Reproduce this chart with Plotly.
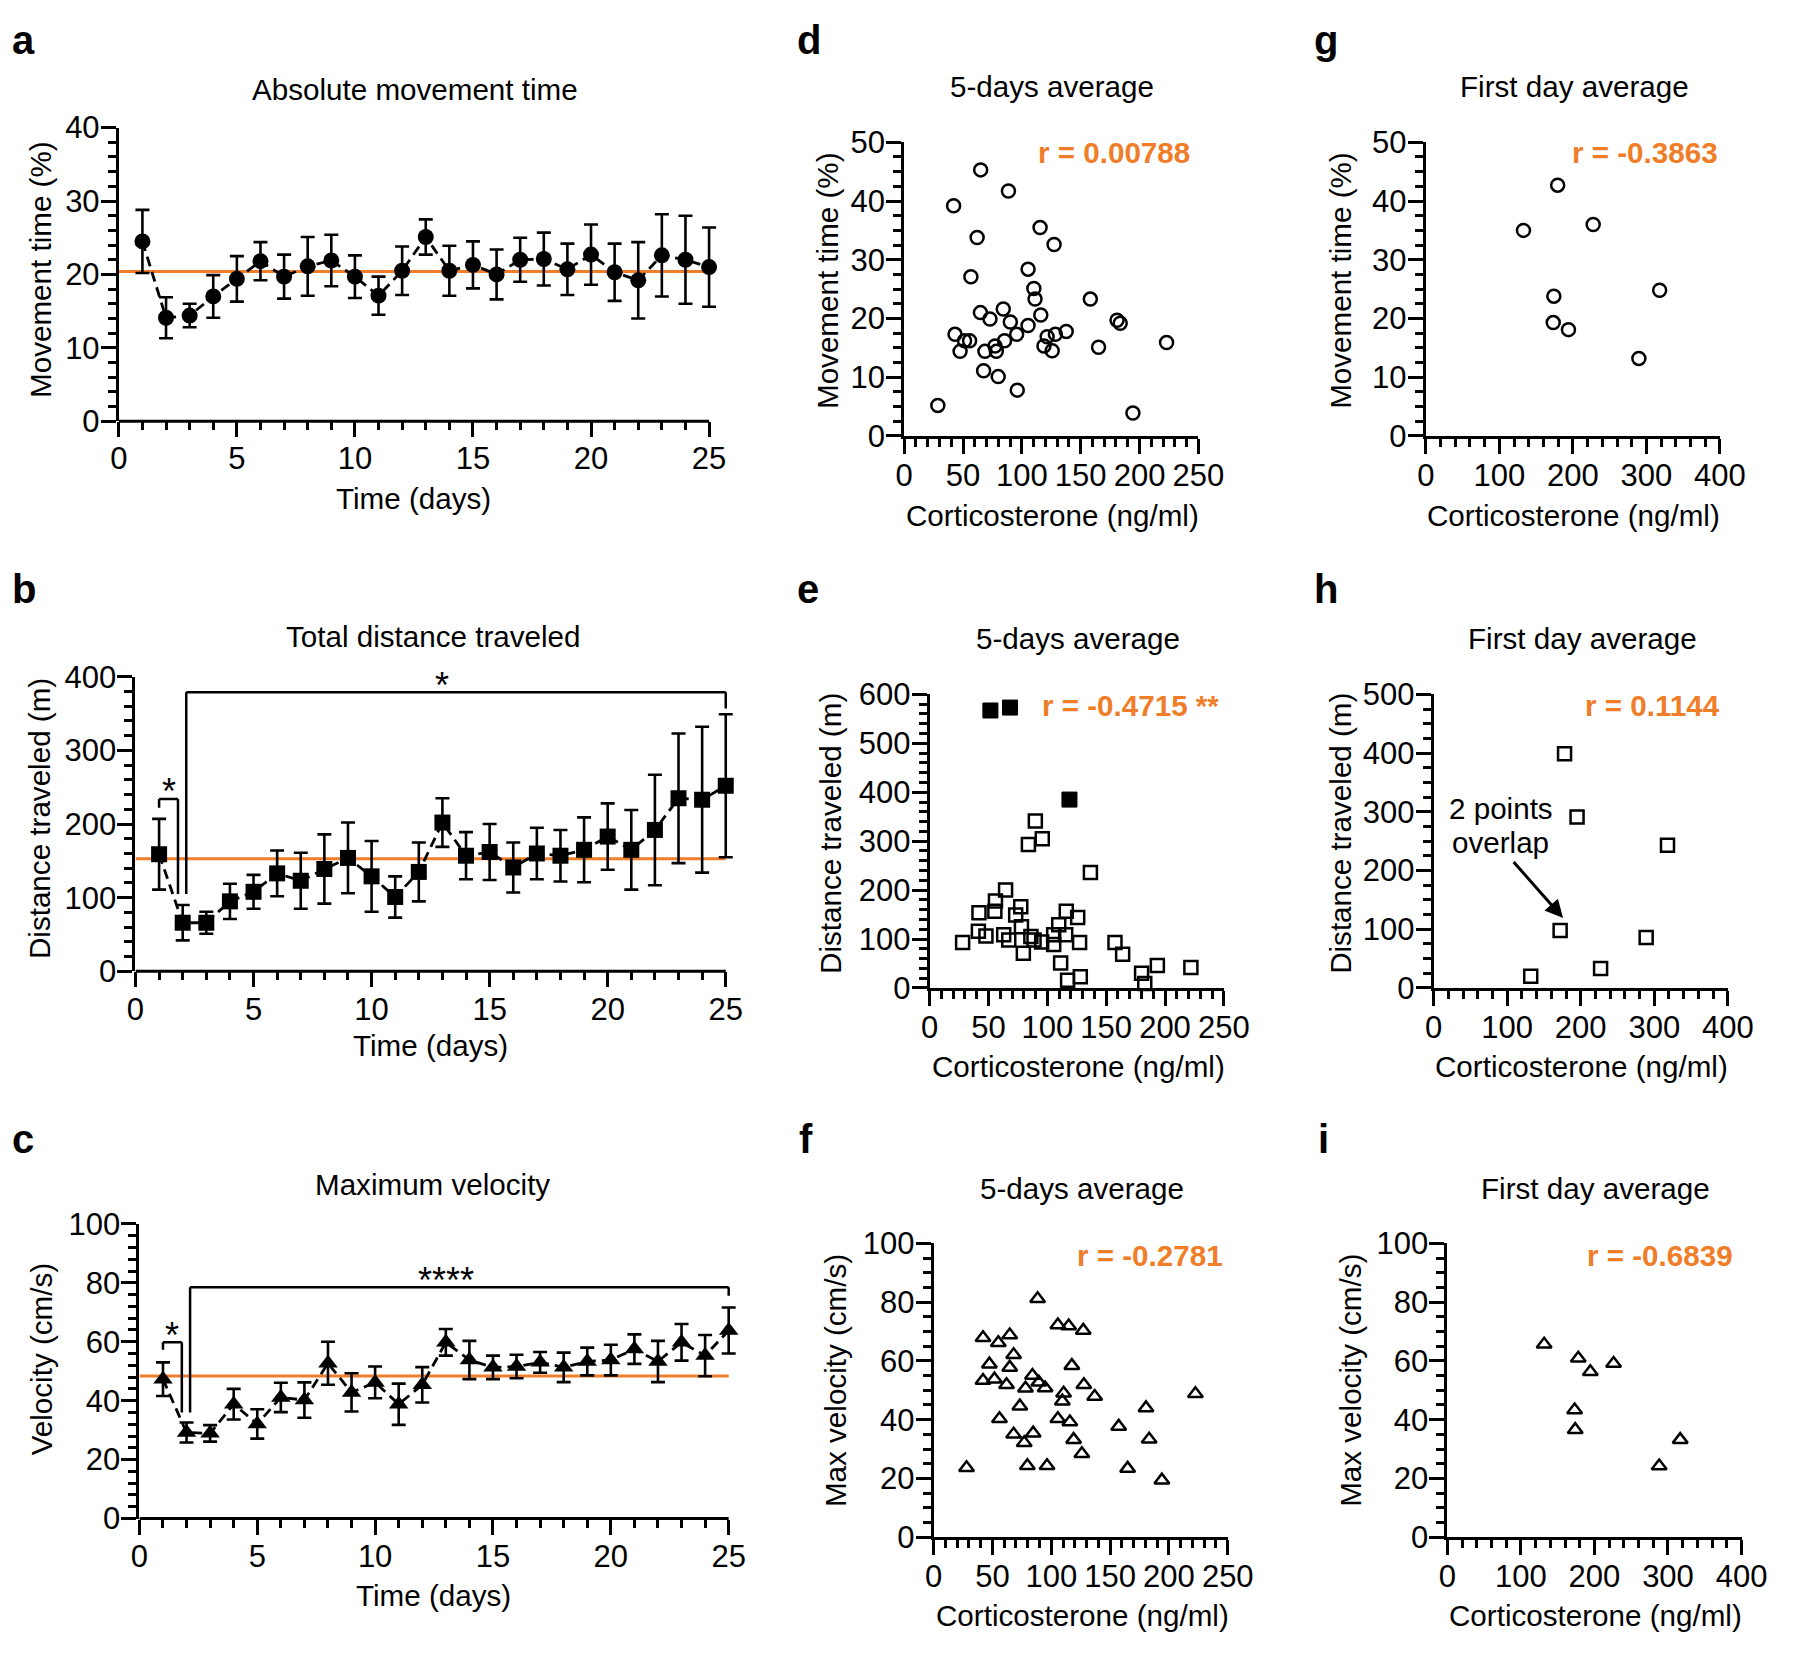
import plotly.graph_objects as go

W, H = 1794, 1653
FONT = "Liberation Sans, Arial, Helvetica, sans-serif"
ORANGE = "#F07D28"

# ---------------- data ----------------
days = list(range(1, 26))
move_mean = [24.5, 14.1, 14.4, 17.0, 19.4, 21.8, 19.7, 21.1, 21.9, 19.7, 17.1, 20.5, 25.1,
             20.5, 21.3, 20.0, 22.0, 22.1, 20.7, 22.7, 20.3, 19.2, 22.6, 22.0, 21.0]
move_sem = [4.3, 2.8, 1.6, 2.9, 3.1, 2.6, 3.0, 4.0, 3.5, 2.9, 2.6, 3.3, 2.4,
            3.4, 3.2, 3.4, 3.0, 3.6, 3.5, 4.1, 3.9, 5.2, 5.6, 6.0, 5.4]
move_ref = 20.4

dist_mean = [159, 66, 66, 95, 108, 133, 123, 139, 154, 129, 101, 135, 202,
             157, 162, 141, 160, 157, 165, 183, 165, 192, 235, 233, 252]
dist_sem = [48, 24, 15, 24, 23, 31, 38, 47, 48, 48, 28, 40, 33,
            32, 38, 34, 35, 35, 44, 45, 54, 75, 88, 99, 97]
dist_ref = 153

vel_mean = [47.3, 29.2, 28.9, 38.8, 32.1, 41.1, 40.2, 52.7, 42.8, 46.2, 38.8, 45.4, 59.8,
            53.8, 51.3, 51.6, 53.0, 51.3, 53.3, 53.8, 57.5, 53.3, 59.8, 55.3, 63.8]
vel_sem = [5.7, 3.4, 2.8, 5.2, 5.0, 5.0, 6.0, 7.3, 6.5, 5.4, 7.0, 6.0, 4.5,
           6.5, 4.0, 4.0, 3.5, 5.0, 4.7, 5.2, 5.0, 7.0, 6.2, 7.0, 7.8]
vel_ref = 48.4

# significance brackets: (x_left, x_right, y_top, y_left_end, y_right_end, label, label_x)
dist_brackets = [(1.0, 1.8, 234, 222, 105, "*", 1.4),
                 (2.15, 25, 379, 105, 357, "*", 13)]
vel_brackets = [(1.0, 1.8, 59.8, 57.3, 36, "*", 1.4),
                (2.15, 25, 78.5, 36, 75.6, "****", 13)]

# 5-days average, movement time
cort_d = [28.6, 42, 65, 88.6, 62, 115.5, 127.4, 56.7, 105.3, 110.2, 111.2, 158.2, 64.8, 84.2,
          72.9, 90.2, 116.1, 105.3, 95.6, 180.9, 183.6, 43.2, 51.3, 55.6, 47.5, 68.6, 78.3, 77.2,
          85.3, 118.8, 121.5, 128.5, 137.7, 125.8, 165.2, 223, 67.5, 79.9, 96.1, 194.4]
move_d = [5.2, 39.2, 45.3, 41.7, 33.8, 35.5, 32.6, 27.1, 28.4, 25.1, 23.3, 23.3, 21.0, 21.6,
          19.9, 19.4, 20.6, 18.8, 17.3, 19.7, 19.2, 17.3, 16.2, 16.2, 14.4, 14.4, 14.4, 15.3,
          16.2, 15.3, 16.9, 17.3, 17.8, 14.5, 15.1, 15.9, 11.1, 10.1, 7.8, 3.9]
r_d = "r = 0.00788"

# first day, movement time
cort_g = [132.8, 179.3, 227.6, 174.1, 173.3, 194, 318, 289.7]
move_g = [35.0, 42.7, 36.0, 23.8, 19.3, 18.1, 24.8, 13.2]
r_g = "r = -0.3863"

# 5-days average, distance
cort_e_filled = [51.6, 68.3, 118.8]
dist_e_filled = [567, 573, 385]
cort_e = [89.8, 83.9, 95.7, 136.6, 64.5, 55.9, 77.4, 41.9, 55.4, 73.1, 116.1, 125.8, 109.7, 78,
          41.4, 47.8, 62.9, 67.2, 86, 88.7, 95.2, 105.4, 105.4, 115.6, 28, 127.4, 157.5, 164,
          79.6, 111.3, 180.1, 182.8, 193.5, 222, 117.2, 128]
dist_e = [341, 293, 305, 236, 200, 178, 166, 154, 157, 149, 157, 144, 129, 125,
          116, 106, 109, 98, 105, 98, 94, 89, 109, 109, 93, 93, 93, 69,
          71, 51, 30, 9, 46, 42, 16, 23]
r_e = "r = -0.4715 **"

# first day, distance
cort_h = [178, 195, 318, 172, 289, 227, 132]
dist_h = [399, 291, 243, 98, 86, 33, 20]
r_h = "r = 0.1144"
overlap_note = ["2 points", "overlap"]
overlap_arrow = dict(tail=(107, 217), head=(176, 119))

# 5-days average, velocity
cort_f = [28, 42, 55, 64.7, 68, 47.4, 64.7, 42, 51.7, 62, 84, 89.4, 78.1, 94.8, 88.4, 105.6,
          114.8, 127.2, 117.5, 110.5, 109.4, 127.7, 136.9, 73.3, 56, 105.6, 115.8, 68, 84.6, 77,
          119, 126, 79.7, 96.4, 157.3, 180.5, 183.2, 164.9, 194, 222.5]
vel_f = [23.6, 67.9, 66.2, 68.8, 62.1, 58.9, 57.8, 53.3, 53.8, 51.9, 55, 52.7, 50.7, 50.8, 81.2,
         72.2, 71.9, 70.4, 58.4, 49, 46.3, 51.9, 47.9, 44.6, 40.3, 40.3, 39.2, 35, 35.4, 32.1,
         33.2, 28.4, 24.3, 24.3, 37.7, 44, 33.3, 23.4, 19.4, 48.8]
r_f = "r = -0.2781"

# first day, velocity
cort_i = [131.6, 178, 194.4, 226, 173, 173.8, 288, 316.6]
vel_i = [65.7, 60.9, 56.3, 59.1, 43.3, 36.6, 24.2, 33.2]
r_i = "r = -0.6839"

# ---------------- layout helpers ----------------
def px_x(p):
    return p / W


def px_y(p):
    return 1 - p / H


# (left, right, top, bottom) in pixels; right = pixel of the last labelled tick
boxes = {
    'a': (112, 714, 113, 413),
    'b': (129, 731, 674, 975),
    'c': (133, 734, 1233, 1534),
    'd': (913, 1213, 128, 428),
    'e': (939, 1239, 692, 992),
    'f': (943, 1243, 1253, 1553),
    'g': (1445, 1745, 128, 428),
    'h': (1453, 1753, 692, 992),
    'i': (1467, 1767, 1253, 1553),
}
order = ['a', 'b', 'c', 'd', 'e', 'f', 'g', 'h', 'i']
axis_id = {k: i + 1 for i, k in enumerate(order)}
time_keys = {'a', 'b', 'c'}
XPAD = 0.7  # extra room right of day 25 so end error caps are not clipped

axis_spec = {  # xrange, xdtick, xminor, yrange, ydtick, yminor
    'a': ([0, 25], 5, 1, [0, 40], 10, 2),
    'b': ([0, 25], 5, 1, [0, 400], 100, 20),
    'c': ([0, 25], 5, 1, [0, 100], 20, 4),
    'd': ([0, 250], 50, 10, [0, 50], 10, 2.5),
    'e': ([0, 250], 50, 10, [0, 600], 100, 20),
    'f': ([0, 250], 50, 10, [0, 100], 20, 5),
    'g': ([0, 400], 100, 20, [0, 50], 10, 2.5),
    'h': ([0, 400], 100, 20, [0, 500], 100, 25),
    'i': ([0, 400], 100, 20, [0, 100], 20, 5),
}

TICKFONT = dict(size=31, family=FONT, color='black')
TXT = 29.6


def make_axis(dom, rng, dtick, minor, anchor, showline=True):
    return dict(domain=dom, range=rng, dtick=dtick, tick0=0, anchor=anchor,
                showline=showline, linewidth=3, linecolor='black',
                ticks='outside', ticklen=15, tickwidth=3, tickcolor='black',
                ticklabelstandoff=-5,
                showgrid=False, zeroline=False, fixedrange=True,
                tickfont=TICKFONT,
                minor=dict(dtick=minor, tick0=0, ticks='outside', ticklen=8,
                           tickwidth=3, tickcolor='black', showgrid=False))


fig = go.Figure()
layout_axes = {}
shapes = []
for k in order:
    n = axis_id[k]
    l, r, t, b = boxes[k]
    xr, xd, xm, yr, yd, ym = axis_spec[k]
    xname = 'xaxis' if n == 1 else f'xaxis{n}'
    yname = 'yaxis' if n == 1 else f'yaxis{n}'
    sfx = "" if n == 1 else str(n)
    if k in time_keys:
        r_ext = r + (r - l) * XPAD / xr[1]
        layout_axes[xname] = make_axis([px_x(l), px_x(r_ext)], [xr[0], xr[1] + XPAD], xd, xm,
                                       'y' + sfx, showline=False)
        shapes.append(dict(type='line', xref='x' + sfx, yref='y' + sfx + ' domain',
                           x0=xr[0], x1=xr[1], y0=0, y1=0,
                           line=dict(color='black', width=3)))
    else:
        layout_axes[xname] = make_axis([px_x(l), px_x(r)], xr, xd, xm, 'y' + sfx)
    layout_axes[yname] = make_axis([px_y(b), px_y(t)], yr, yd, ym, 'x' + sfx)


def refs(k):
    n = axis_id[k]
    return ('x' if n == 1 else f'x{n}'), ('y' if n == 1 else f'y{n}')


annotations = []


def ann(text, xp, yp, size=TXT, bold=False, color='black', xanchor='center',
        yanchor='middle', angle=0):
    if bold:
        text = f"<b>{text}</b>"
    annotations.append(dict(text=text, x=px_x(xp), y=px_y(yp), xref='paper', yref='paper',
                            showarrow=False, xanchor=xanchor, yanchor=yanchor,
                            textangle=angle,
                            font=dict(size=size, family=FONT, color=color)))


# ---------------- time course panels ----------------
time_panels = [('a', move_mean, move_sem, move_ref, 'circle', 16, []),
               ('b', dist_mean, dist_sem, dist_ref, 'square', 16, dist_brackets),
               ('c', vel_mean, vel_sem, vel_ref, 'triangle-up', 17, vel_brackets)]
for k, mean, sem, ref, sym, msize, brackets in time_panels:
    xr_, yr_ = refs(k)
    shapes.append(dict(type='line', xref=xr_, yref=yr_, x0=0, x1=25, y0=ref, y1=ref,
                       line=dict(color=ORANGE, width=3), layer='below'))
    fig.add_trace(go.Scatter(
        x=days, y=mean, xaxis=xr_, yaxis=yr_, mode='lines+markers', cliponaxis=False,
        line=dict(color='black', width=2.8, dash='10px,6px'),
        marker=dict(symbol=sym, size=msize, color='black'),
        error_y=dict(type='data', array=sem, visible=True, color='black',
                     thickness=2.6, width=7)))
    for x0, x1, ytop, yl, yrr, lab, lx in brackets:
        for seg in [(x0, ytop, x1, ytop), (x0, ytop, x0, yl), (x1, ytop, x1, yrr)]:
            shapes.append(dict(type='line', xref=xr_, yref=yr_, x0=seg[0], y0=seg[1],
                               x1=seg[2], y1=seg[3], line=dict(color='black', width=2.5)))
        annotations.append(dict(text=lab, x=lx, y=ytop, xref=xr_, yref=yr_, showarrow=False,
                                xanchor='center', yanchor='middle', yshift=7,
                                font=dict(size=36, family=FONT, color='black')))

# ---------------- scatter panels ----------------
scatter_panels = [('d', cort_d, move_d, 'circle-open', 13),
                  ('g', cort_g, move_g, 'circle-open', 13),
                  ('e', cort_e, dist_e, 'square-open', 13),
                  ('h', cort_h, dist_h, 'square-open', 13),
                  ('f', cort_f, vel_f, 'triangle-up-open', 13),
                  ('i', cort_i, vel_i, 'triangle-up-open', 13)]
for k, xs, ys, sym, ms in scatter_panels:
    xr_, yr_ = refs(k)
    fig.add_trace(go.Scatter(x=xs, y=ys, xaxis=xr_, yaxis=yr_, mode='markers', cliponaxis=False,
                             marker=dict(symbol=sym, size=ms, color='black',
                                         line=dict(color='black', width=2.5))))
xr_, yr_ = refs('e')
fig.add_trace(go.Scatter(x=cort_e_filled, y=dist_e_filled, xaxis=xr_, yaxis=yr_, mode='markers',
                         cliponaxis=False,
                         marker=dict(symbol='square', size=15, color='black',
                                     line=dict(color='black', width=1))))

# arrow in h
xr_, yr_ = refs('h')
annotations.append(dict(text='', x=overlap_arrow['head'][0], y=overlap_arrow['head'][1],
                        ax=overlap_arrow['tail'][0], ay=overlap_arrow['tail'][1],
                        xref=xr_, yref=yr_, axref=xr_, ayref=yr_, showarrow=True,
                        arrowhead=2, arrowsize=1.2, arrowwidth=3, arrowcolor='black'))
ann(overlap_note[0], 1467, 809, xanchor='left')
ann(overlap_note[1], 1470, 843, xanchor='left')

# ---------------- texts ----------------
titles = [("Absolute movement time", 414, 74), ("Total distance traveled", 432, 633),
          ("Maximum velocity", 432, 1193), ("5-days average", 1064, 71),
          ("First day average", 1597, 71), ("5-days average", 1090, 635),
          ("First day average", 1605, 635), ("5-days average", 1094, 1197),
          ("First day average", 1618, 1197)]
for t, xp, yp in titles:
    ann(t, xp, yp)

xtitles = [("Time (days)", 413, 492), ("Time (days)", 430, 1051), ("Time (days)", 433, 1613),
           ("Corticosterone (ng/ml)", 1064, 509), ("Corticosterone (ng/ml)", 1596, 509),
           ("Corticosterone (ng/ml)", 1091, 1072), ("Corticosterone (ng/ml)", 1604, 1072),
           ("Corticosterone (ng/ml)", 1095, 1633), ("Corticosterone (ng/ml)", 1618, 1633)]
for t, xp, yp in xtitles:
    ann(t, xp, yp)

ytitles = [("Movement time (%)", 32, 258), ("Distance traveled (m)", 31, 819),
           ("Velocity (cm/s)", 34, 1371), ("Movement time (%)", 835, 269),
           ("Movement time (%)", 1358, 269), ("Distance traveled (m)", 838, 834),
           ("Distance traveled (m)", 1358, 834), ("Max velocity (cm/s)", 843, 1393),
           ("Max velocity (cm/s)", 1368, 1393)]
for t, xp, yp in ytitles:
    ann(t, xp, yp, angle=-90)

rtexts = [(r_d, 1207, 138), (r_g, 1745, 138), (r_e, 1236, 703), (r_h, 1747, 703),
          (r_f, 1240, 1265), (r_i, 1760, 1265)]
for t, xp, yp in rtexts:
    ann(t, xp, yp, bold=True, color=ORANGE, xanchor='right')

letters = [('a', 1, 24), ('b', 1, 584), ('c', 1, 1146), ('d', 802, 24), ('e', 802, 584),
           ('f', 804, 1146), ('g', 1329, 24), ('h', 1329, 584), ('i', 1333, 1146)]
for t, xp, yp in letters:
    ann(t, xp, yp, size=40, bold=True, xanchor='left')

fig.update_layout(width=W, height=H, margin=dict(l=0, r=0, t=0, b=0),
                  paper_bgcolor='white', plot_bgcolor='white', showlegend=False,
                  font=dict(family=FONT, color='black', size=30),
                  shapes=shapes, annotations=annotations, **layout_axes)

fig.write_html("out.html", config={'displayModeBar': False},
               post_script="document.body.style.margin='0px';"
                           "document.body.style.overflow='hidden';")
